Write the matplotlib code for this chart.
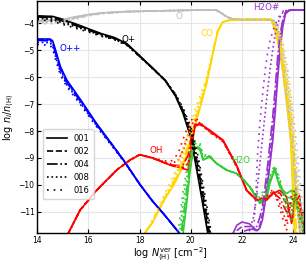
import matplotlib

matplotlib.use("Agg")
import matplotlib.pyplot as plt

MODELS = ["001", "002", "004", "008", "016"]
STYLES = ["-", "--", "-.", ":", (0, (1, 3))]

# O+  (one y-list per model, same order as MODELS)
OPLUS_X = [14.0, 14.6, 15.0, 15.5, 16.0, 16.5, 17.0, 17.5, 18.0, 18.5, 19.0, 19.4, 19.7, 20.0, 20.3, 20.5, 20.7, 20.9]
OPLUS_Y = [
    [-3.72, -3.74, -3.85, -4.02, -4.20, -4.38, -4.52, -4.75, -5.20, -5.65, -6.12, -6.70, -7.35, -8.25, -9.80, -10.9, -12.0, -13.2],
    [-3.74, -3.77, -3.88, -4.05, -4.22, -4.40, -4.54, -4.77, -5.22, -5.66, -6.12, -6.68, -7.30, -8.15, -9.60, -10.7, -11.8, -13.0],
    [-3.76, -3.80, -3.92, -4.08, -4.25, -4.42, -4.56, -4.78, -5.22, -5.66, -6.12, -6.66, -7.25, -8.05, -9.40, -10.5, -11.6, -12.8],
    [-3.80, -3.86, -3.98, -4.13, -4.28, -4.45, -4.58, -4.80, -5.23, -5.67, -6.12, -6.64, -7.20, -7.95, -9.20, -10.3, -11.4, -12.6],
    [-3.85, -3.92, -4.04, -4.18, -4.32, -4.48, -4.60, -4.82, -5.24, -5.68, -6.12, -6.62, -7.15, -7.85, -9.00, -10.1, -11.2, -12.4],
]

# O++
OPP_X = [14.0, 14.5, 14.6, 14.7, 14.9, 15.15, 15.7, 16.3, 17.0, 17.4, 18.0, 18.5, 19.0, 19.6, 19.8]
OPP_Y = [
    [-4.58, -4.58, -4.65, -4.95, -5.60, -6.10, -6.85, -7.70, -8.60, -9.12, -9.97, -10.6, -11.15, -11.85, -12.1],
    [-4.60, -4.61, -4.70, -5.00, -5.65, -6.15, -6.88, -7.72, -8.60, -9.12, -9.97, -10.6, -11.15, -11.85, -12.1],
    [-4.63, -4.65, -4.75, -5.08, -5.72, -6.20, -6.92, -7.74, -8.62, -9.13, -9.97, -10.6, -11.15, -11.85, -12.1],
    [-4.70, -4.72, -4.85, -5.20, -5.82, -6.28, -6.98, -7.78, -8.64, -9.14, -9.98, -10.6, -11.15, -11.85, -12.1],
    [-4.78, -4.82, -4.95, -5.30, -5.92, -6.35, -7.04, -7.82, -8.66, -9.15, -9.98, -10.6, -11.15, -11.85, -12.1],
]

# O
O_X = [14.0, 14.5, 15.0, 15.5, 16.0, 16.5, 17.5, 18.5, 19.5, 20.5, 21.0, 21.2, 21.4, 21.6, 22.0, 23.0, 23.2, 23.4, 23.6, 23.8, 24.0, 24.2, 24.4]
O_Y = [
    [-3.88, -3.88, -3.86, -3.75, -3.67, -3.61, -3.56, -3.54, -3.52, -3.50, -3.51, -3.62, -3.75, -3.83, -3.86, -3.86, -3.90, -4.50, -5.80, -7.40, -9.20, -11.2, -13.0],
    [-3.90, -3.90, -3.88, -3.77, -3.68, -3.62, -3.56, -3.54, -3.52, -3.50, -3.51, -3.62, -3.75, -3.83, -3.86, -3.86, -3.89, -4.40, -5.60, -7.10, -8.90, -10.9, -12.8],
    [-3.92, -3.93, -3.90, -3.79, -3.69, -3.62, -3.56, -3.54, -3.52, -3.50, -3.51, -3.62, -3.75, -3.83, -3.86, -3.86, -3.88, -4.30, -5.40, -6.80, -8.50, -10.5, -12.5],
    [-3.96, -3.97, -3.94, -3.82, -3.70, -3.63, -3.57, -3.54, -3.52, -3.50, -3.51, -3.62, -3.75, -3.83, -3.86, -3.86, -3.87, -4.10, -5.00, -6.30, -7.90, -9.80, -11.9],
    [-4.00, -4.02, -3.98, -3.85, -3.72, -3.64, -3.57, -3.54, -3.52, -3.50, -3.51, -3.62, -3.75, -3.83, -3.86, -3.86, -3.86, -3.98, -4.70, -5.80, -7.30, -9.10, -11.2],
]

# CO
CO_X = [18.2, 18.5, 19.0, 19.3, 19.5, 19.7, 19.95, 20.2, 20.4, 20.6, 20.8, 20.9, 21.05, 21.25, 21.5, 22.0, 23.0, 23.15, 23.3, 23.5, 23.7, 23.9, 24.05, 24.2, 24.35]
CO_Y = [
    [-11.8, -11.4, -10.5, -10.06, -9.70, -9.30, -8.57, -7.70, -7.00, -6.30, -5.40, -4.95, -4.30, -3.95, -3.88, -3.86, -3.85, -3.87, -4.30, -5.10, -6.50, -8.20, -11.8, -13.0, -13.0],
    [-11.8, -11.4, -10.5, -10.00, -9.62, -9.20, -8.45, -7.60, -6.95, -6.28, -5.40, -4.95, -4.30, -3.95, -3.88, -3.86, -3.85, -3.86, -4.25, -5.00, -6.35, -7.95, -11.2, -13.0, -13.0],
    [-11.8, -11.4, -10.45, -9.95, -9.55, -9.10, -8.35, -7.50, -6.90, -6.25, -5.38, -4.94, -4.30, -3.95, -3.88, -3.86, -3.85, -3.86, -4.15, -4.85, -6.15, -7.65, -10.4, -12.8, -13.0],
    [-11.8, -11.35, -10.4, -9.85, -9.40, -8.85, -8.10, -7.30, -6.75, -6.15, -5.35, -4.90, -4.28, -3.95, -3.88, -3.86, -3.85, -3.86, -4.00, -4.60, -5.70, -7.10, -8.90, -11.2, -12.8],
    [-11.8, -11.3, -10.3, -9.70, -9.20, -8.60, -7.90, -7.10, -6.60, -6.05, -5.30, -4.88, -4.26, -3.95, -3.88, -3.86, -3.85, -3.85, -3.95, -4.40, -5.40, -6.70, -8.30, -10.4, -12.2],
]

# OH
OH_X = [15.0, 15.21, 15.67, 16.32, 17.1, 17.62, 18.0, 18.5, 19.2, 19.5, 19.7, 19.9, 20.0, 20.16, 20.35, 20.74, 21.26, 21.79, 22.18, 22.57, 22.96, 23.22, 23.48, 23.74, 23.94, 24.1, 24.25, 24.4]
OH_Y = [
    [-12.5, -11.8, -10.94, -10.2, -9.45, -9.08, -8.88, -9.00, -9.27, -9.34, -9.40, -9.45, -8.80, -7.84, -7.72, -7.97, -8.34, -9.27, -10.2, -10.57, -10.57, -10.32, -10.2, -10.44, -11.43, -10.6, -10.4, -11.8],
    [-12.5, -11.8, -10.94, -10.2, -9.45, -9.08, -8.88, -9.00, -9.27, -9.32, -9.35, -9.20, -8.55, -7.80, -7.74, -7.98, -8.35, -9.28, -10.2, -10.57, -10.56, -10.31, -10.3, -10.7, -11.3, -10.5, -10.5, -11.7],
    [-12.5, -11.8, -10.94, -10.2, -9.45, -9.08, -8.88, -9.00, -9.26, -9.28, -9.25, -8.90, -8.30, -7.75, -7.76, -8.00, -8.36, -9.29, -10.2, -10.56, -10.52, -10.28, -10.5, -11.0, -11.0, -10.4, -10.7, -11.5],
    [-12.5, -11.8, -10.94, -10.2, -9.45, -9.08, -8.88, -9.00, -9.22, -9.10, -8.70, -8.10, -7.80, -7.60, -7.70, -8.03, -8.38, -9.31, -10.2, -10.55, -10.48, -10.22, -10.7, -11.4, -10.6, -10.3, -11.0, -11.2],
    [-12.5, -11.8, -10.94, -10.2, -9.45, -9.08, -8.88, -9.00, -9.15, -8.85, -8.30, -7.80, -7.60, -7.50, -7.66, -8.06, -8.40, -9.33, -10.2, -10.54, -10.44, -10.16, -10.9, -11.7, -10.3, -10.2, -11.3, -11.0],
]

# H2O
H2O_X = [19.4, 19.6, 19.7, 19.85, 19.96, 20.06, 20.16, 20.36, 20.48, 20.74, 21.0, 21.4, 21.79, 22.05, 22.31, 22.5, 22.7, 22.96, 23.09, 23.28, 23.48, 23.74, 23.95, 24.1, 24.25, 24.4]
H2O_Y = [
    [-13.0, -12.4, -11.8, -10.6, -9.58, -8.90, -8.59, -8.70, -9.08, -8.96, -9.20, -9.45, -9.58, -9.80, -10.08, -10.4, -10.69, -10.57, -9.95, -9.45, -10.08, -10.32, -10.2, -10.9, -10.5, -11.8],
    [-13.0, -12.2, -11.5, -10.4, -9.45, -8.85, -8.57, -8.68, -9.05, -8.95, -9.20, -9.45, -9.58, -9.80, -10.08, -10.38, -10.64, -10.50, -9.90, -9.42, -10.05, -10.45, -10.5, -10.7, -10.7, -11.6],
    [-13.0, -12.0, -11.2, -10.1, -9.30, -8.78, -8.54, -8.64, -9.02, -8.94, -9.20, -9.45, -9.58, -9.80, -10.08, -10.36, -10.58, -10.40, -9.82, -9.38, -9.95, -10.60, -10.8, -10.5, -11.0, -11.4],
    [-12.8, -11.5, -10.6, -9.70, -9.00, -8.60, -8.45, -8.55, -8.95, -8.92, -9.20, -9.45, -9.58, -9.80, -10.08, -10.32, -10.48, -10.25, -9.72, -9.32, -9.85, -10.80, -11.1, -10.3, -11.3, -11.2],
    [-12.5, -11.0, -10.2, -9.40, -8.80, -8.45, -8.35, -8.45, -8.88, -8.90, -9.20, -9.45, -9.58, -9.80, -10.08, -10.28, -10.38, -10.10, -9.62, -9.28, -9.75, -11.00, -11.4, -10.1, -11.6, -11.0],
]

# H2O#
H2OI_X = [21.65, 21.8, 22.0, 22.3, 22.45, 22.55, 22.6, 22.7, 22.8, 22.9, 23.0, 23.1, 23.2, 23.3, 23.4, 23.5, 23.6, 23.7, 23.85, 24.0, 24.42]
H2OI_Y = [
    [-11.8, -11.5, -11.38, -11.45, -11.6, -11.68, -11.7, -11.6, -11.3, -10.7, -10.0, -9.2, -8.4, -7.3, -6.0, -4.9, -4.1, -3.65, -3.52, -3.50, -3.50],
    [-12.0, -11.7, -11.55, -11.55, -11.65, -11.7, -11.65, -11.5, -11.1, -10.5, -9.7, -8.9, -8.0, -6.9, -5.6, -4.6, -3.95, -3.60, -3.52, -3.50, -3.50],
    [-12.2, -11.9, -11.75, -11.65, -11.65, -11.6, -11.5, -11.2, -10.8, -10.1, -9.3, -8.4, -7.5, -6.4, -5.2, -4.35, -3.85, -3.58, -3.51, -3.50, -3.50],
    [-12.5, -12.3, -12.0, -11.7, -11.2, -10.6, -10.1, -9.2, -8.3, -7.4, -6.5, -5.7, -5.0, -4.4, -4.0, -3.75, -3.6, -3.53, -3.50, -3.50, -3.50],
    [-12.5, -12.4, -12.2, -12.0, -11.8, -10.2, -9.0, -7.7, -6.7, -5.8, -5.1, -4.65, -4.3, -4.05, -3.85, -3.65, -3.55, -3.50, -3.50, -3.50, -3.50],
]

SPECIES = [
    ("O", O_X, O_Y, "#bdbdbd", 19.55, -3.73),
    ("CO", CO_X, CO_Y, "gold", 20.64, -4.36),
    ("OH", OH_X, OH_Y, "red", 18.64, -8.73),
    ("H2O", H2O_X, H2O_Y, "limegreen", 21.93, -9.08),
    ("O+", OPLUS_X, OPLUS_Y, "black", 17.57, -4.61),
    ("O++", OPP_X, OPP_Y, "blue", 15.3, -4.94),
    ("H2O#", H2OI_X, H2OI_Y, "darkorchid", 22.95, -3.40),
]


def main() -> None:
    plt.rcParams["xtick.direction"] = "in"
    plt.rcParams["ytick.direction"] = "in"
    plt.rcParams["axes.linewidth"] = 1.0
    fig = plt.figure(figsize=(3.06, 2.66), dpi=100)
    ax = fig.add_axes([0.122, 0.125, 0.871, 0.871])

    for m, (model, ls) in enumerate(zip(MODELS, STYLES)):
        for name, xs, ys, color, lx, ly in SPECIES:
            ax.plot(xs, ys[m], color=color, linestyle=ls, linewidth=1.2)

    for name, xs, ys, color, lx, ly in SPECIES:
        ax.text(lx, ly, name, color=color, fontsize=6.3, ha="center", va="center")

    handles = [ax.plot([], [], color="black", linestyle=ls, linewidth=1.2, label=model)[0]
               for model, ls in zip(MODELS, STYLES)]
    ax.legend(handles=handles, loc="upper left", bbox_to_anchor=(0.02, 0.446), borderaxespad=0,
              fontsize=6, handlelength=2.4, borderpad=0.5)

    ax.set_xlim(14, 24.42)
    ax.set_ylim(-11.78, -3.17)
    ax.set_xticks([14, 16, 18, 20, 22, 24])
    ax.set_yticks([-11, -10, -9, -8, -7, -6, -5, -4])
    ax.tick_params(labelsize=5.5, top=True, right=True, length=3, width=0.8, pad=2)
    ax.grid(True, color="#e6e6e6", linewidth=0.8)
    ax.set_axisbelow(True)
    ax.set_xlabel(r"$\log\,N^{\rm ver}_{\langle \rm H\rangle}\ [\rm cm^{-2}]$", fontsize=7, labelpad=1)
    ax.set_ylabel(r"$\log\,n_i/n_{\langle \rm H\rangle}$", fontsize=7, labelpad=1)
    fig.savefig("out.png", dpi=100)


if __name__ == "__main__":
    main()
